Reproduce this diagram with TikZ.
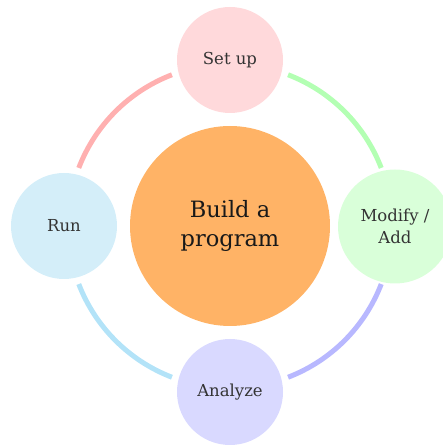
\documentclass[tikz,border=0pt]{standalone}
\usepackage{fontspec}
\setmainfont{DejaVu Serif}
\usetikzlibrary{calc}
\definecolor{cCenter}{HTML}{FFB366}
\definecolor{fTop}{HTML}{FFD9DB}
\definecolor{fRight}{HTML}{D9FFD9}
\definecolor{fBottom}{HTML}{D9D9FF}
\definecolor{fLeft}{HTML}{D4EEF9}
\definecolor{aPink}{HTML}{FFB0B0}
\definecolor{aGreen}{HTML}{B3FFB3}
\definecolor{aPurple}{HTML}{B8B8FF}
\definecolor{aBlue}{HTML}{B3E3F8}
\definecolor{txt}{HTML}{333333}
\begin{document}
\begin{tikzpicture}[x=1pt,y=1pt,
  sat/.style={circle,inner sep=0pt,minimum size=106pt,text=txt,align=center,
    font=\fontsize{16.5}{22}\selectfont},
  ring/.style={line width=5pt}]
\clip (0,0) rectangle (443,447);
\useasboundingbox (0,0) rectangle (443,447);
\coordinate (c) at (230,221);
\node[circle,fill=cCenter,minimum size=200pt,inner sep=0pt,align=center,text=black!90,
  font=\fontsize{22.5}{29}\selectfont] (center) at (c) {Build a\\program};
\node[sat,fill=fTop] (setup) at (230,387) {Set up};
\node[sat,fill=fRight,minimum size=114pt] (modify) at (395,220.5) {Modify /\\Add};
\node[sat,fill=fBottom] (analyze) at (230,55) {Analyze};
\node[sat,fill=fLeft] (run) at (64,221) {Run};
\coordinate (g1) at ($(c)+(69:162)$);
\coordinate (p1) at ($(c)+(159:162)$);
\coordinate (b1) at ($(c)+(249:162)$);
\coordinate (v1) at ($(c)+(339:162)$);
\draw[ring,aGreen] (g1) arc[start angle=69,end angle=21,radius=162];
\draw[ring,aPink] (p1) arc[start angle=159,end angle=111,radius=162];
\draw[ring,aBlue] (b1) arc[start angle=249,end angle=201,radius=162];
\draw[ring,aPurple] (v1) arc[start angle=339,end angle=291,radius=162];
\end{tikzpicture}
\end{document}
